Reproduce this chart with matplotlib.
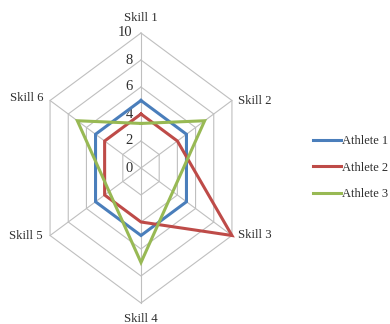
import numpy as np
import matplotlib
matplotlib.use("Agg")
import matplotlib.pyplot as plt
from matplotlib.lines import Line2D

skills = ["Skill 1", "Skill 2", "Skill 3", "Skill 4", "Skill 5", "Skill 6"]
athletes = ["Athlete 1", "Athlete 2", "Athlete 3"]
athlete_1 = [5, 5, 5, 5, 5, 5]
athlete_2 = [4, 4, 10, 4, 4, 4]
athlete_3 = [3.3, 7, 3.5, 7, 3.5, 7]
ring_values = [0, 2, 4, 6, 8, 10]

colors = ["#4A7EBB", "#BE4B48", "#98B954"]
grid_color = "#BFBFBF"
text_color = "#2E2E2E"

plt.rcParams["font.family"] = ["Liberation Serif", "DejaVu Serif"]

# spoke angles, clockwise from the top
theta = np.arange(len(skills)) * 2 * np.pi / len(skills)


def to_xy(values):
    v = np.asarray(values, dtype=float)
    return v * np.sin(theta), v * np.cos(theta)


fig = plt.figure(figsize=(3.9, 3.24), dpi=100)
# center sits at (141, 168) px; x unit is narrower than y unit
ax = fig.add_axes([0, 0, 282 / 390, 312 / 324])
ax.set_xlim(-141 / 10.5, 141 / 10.5)
ax.set_ylim(-156 / 13.5, 156 / 13.5)
ax.axis("off")

# hexagon rings and spokes
for r in ring_values[1:]:
    x, y = to_xy([r] * len(skills))
    ax.plot(np.append(x, x[0]), np.append(y, y[0]), color=grid_color, lw=0.8, zorder=1)
xo, yo = to_xy([ring_values[-1]] * len(skills))
for xe, ye in zip(xo, yo):
    ax.plot([0, xe], [0, ye], color=grid_color, lw=0.8, zorder=1)

# scale labels along the top spoke
for r in ring_values:
    ax.annotate(str(r), (0, r), xytext=(-6, 0), textcoords="offset points",
                ha="right", va="center", fontsize=10.5, color=text_color)

# category labels around the outside
offsets = [(0, 10.5, "center", "center"), (4.5, 0, "left", "center"),
           (4.5, 0, "left", "center"), (0, -11.5, "center", "center"),
           (-5, 0, "right", "center"), (-5, 2, "right", "center")]
for name, xe, ye, (dx, dy, ha, va) in zip(skills, xo, yo, offsets):
    ax.annotate(name, (xe, ye), xytext=(dx, dy), textcoords="offset points",
                ha=ha, va=va, fontsize=9.2, color=text_color)

for vals, c in zip([athlete_1, athlete_2, athlete_3], colors):
    x, y = to_xy(vals)
    ax.plot(np.append(x, x[0]), np.append(y, y[0]), color=c, lw=2.2,
            solid_joinstyle="miter", zorder=3)

handles = [Line2D([0], [0], color=c, lw=2.2) for c in colors]
fig.legend(handles, athletes, loc="center left", bbox_to_anchor=(313 / 390, 0.483),
           frameon=False, fontsize=9, handlelength=2.2, handletextpad=0.15,
           labelspacing=1.15, borderpad=0, borderaxespad=0, labelcolor=text_color)

fig.savefig("out.png", dpi=100)
